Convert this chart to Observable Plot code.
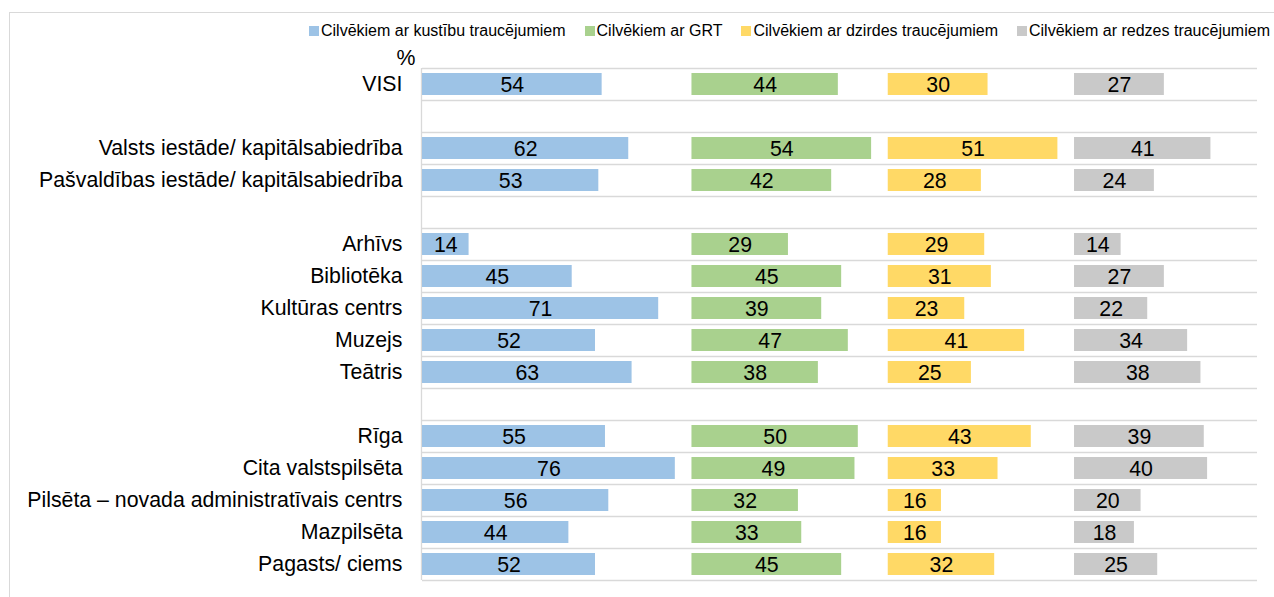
<!DOCTYPE html>
<html>
<head>
<meta charset="utf-8">
<script src="https://cdn.jsdelivr.net/npm/d3@7"></script>
<script src="https://cdn.jsdelivr.net/npm/@observablehq/plot@0.6"></script>
<style>
  html, body { margin: 0; padding: 0; background: #fff; }
  #wrap { position: relative; width: 1274px; height: 597px; overflow: hidden; font-family: "Liberation Sans", Arial, sans-serif; }
  #frame { position: absolute; left: 9px; top: 12px; width: 1300px; height: 620px; border: 1px solid #d9d9d9; box-sizing: border-box; }
  #legend { position: absolute; left: 309px; top: 22px; display: flex; gap: 19px; font-size: 16px; line-height: 18px; color: #000; white-space: nowrap; }
  #legend .item { display: flex; align-items: center; }
  #legend .sw { width: 10px; height: 10px; margin-right: 2px; }
  #chart { position: absolute; left: 0; top: 0; }
</style>
</head>
<body>
<div id="wrap">
  <div id="frame"></div>
  <div id="chart"></div>
  <div id="legend"></div>
</div>
<script>
const categories = [
  "VISI",
  " ",
  "Valsts iestāde/ kapitālsabiedrība",
  "Pašvaldības iestāde/ kapitālsabiedrība",
  "  ",
  "Arhīvs",
  "Bibliotēka",
  "Kultūras centrs",
  "Muzejs",
  "Teātris",
  "   ",
  "Rīga",
  "Cita valstspilsēta",
  "Pilsēta – novada administratīvais centrs",
  "Mazpilsēta",
  "Pagasts/ ciems"
];
const seriesNames = [
  "Cilvēkiem ar kustību traucējumiem",
  "Cilvēkiem ar GRT",
  "Cilvēkiem ar dzirdes traucējumiem",
  "Cilvēkiem ar redzes traucējumiem"
];
const seriesColors = ["#9dc3e6", "#a9d18e", "#ffd966", "#c9c9c9"];
// null = empty spacer row
const kustibu = [54, null, 62, 53, null, 14, 45, 71, 52, 63, null, 55, 76, 56, 44, 52];
const grt     = [44, null, 54, 42, null, 29, 45, 39, 47, 38, null, 50, 49, 32, 33, 45];
const dzirdes = [30, null, 51, 28, null, 29, 31, 23, 41, 25, null, 43, 33, 16, 16, 32];
const redzes  = [27, null, 41, 24, null, 14, 27, 22, 34, 38, null, 39, 40, 20, 18, 25];
const seriesValues = [kustibu, grt, dzirdes, redzes];
const xMax = 251;
const groupGap = 5;

// Excel-style side-by-side panels: each series starts after the previous one's max + gap
const offsets = [];
let acc = 0;
seriesValues.forEach((vals, i) => { offsets.push(acc); acc += d3.max(vals) + groupGap; });

const data = [];
seriesValues.forEach((vals, i) => {
  vals.forEach((v, j) => {
    if (v == null) return;
    data.push({cat: categories[j], series: seriesNames[i], value: v, x1: offsets[i], x2: offsets[i] + v});
  });
});

const W = 1274, H = 597, mTop = 68, mBottom = 17, mLeft = 422, mRight = 17;
const step = (H - mTop - mBottom) / categories.length;
const gridColor = "#d9d9d9";
const fs = 21.3;

const chart = Plot.plot({
  width: W,
  height: H,
  marginTop: mTop,
  marginBottom: mBottom,
  marginLeft: mLeft,
  marginRight: mRight,
  style: {fontFamily: "'Liberation Sans', Arial, sans-serif", fontSize: fs + "px", color: "#000", background: "transparent"},
  x: {domain: [0, xMax], axis: null},
  y: {domain: categories, paddingInner: 0.31, paddingOuter: 0.155, axis: null},
  color: {domain: seriesNames, range: seriesColors},
  marks: [
    Plot.ruleY(categories, {y: d => d, x1: 0, x2: xMax, dy: -step / 2, stroke: gridColor, strokeWidth: 1.3}),
    Plot.ruleY([categories[categories.length - 1]], {y: d => d, x1: 0, x2: xMax, dy: step / 2, stroke: gridColor, strokeWidth: 1.3}),
    Plot.ruleX([0], {dx: -1, stroke: gridColor, strokeWidth: 1.3}),
    Plot.barX(data, {y: "cat", x1: "x1", x2: "x2", fill: "series"}),
    Plot.text(data, {y: "cat", x: d => (d.x1 + d.x2) / 2, text: d => String(d.value), fill: "#000", fontSize: fs, dy: 1}),
    Plot.axisY({tickSize: 0, tickPadding: 20, fontSize: fs, label: null}),
    Plot.text(["%"], {frameAnchor: "top-left", text: d => d, dx: -7, dy: -19, textAnchor: "end", fontSize: fs, fill: "#000"})
  ]
});
document.getElementById("chart").appendChild(chart);

const legend = document.getElementById("legend");
seriesNames.forEach((name, i) => {
  const item = document.createElement("div");
  item.className = "item";
  const sw = document.createElement("span");
  sw.className = "sw";
  sw.style.background = seriesColors[i];
  const label = document.createElement("span");
  label.textContent = name;
  item.appendChild(sw);
  item.appendChild(label);
  legend.appendChild(item);
});
</script>
</body>
</html>
